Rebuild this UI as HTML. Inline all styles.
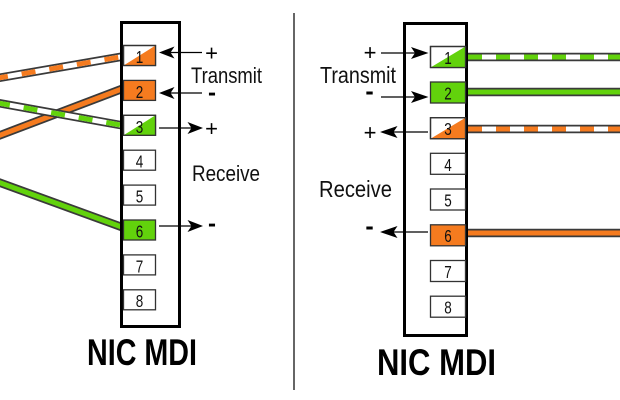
<!DOCTYPE html>
<html>
<head>
<meta charset="utf-8">
<style>
html,body{margin:0;padding:0;background:#fff;}
svg{display:block;}
text{font-family:"Liberation Sans",Arial,sans-serif;}
</style>
</head>
<body>
<svg width="620" height="400" viewBox="0 0 620 400" xmlns="http://www.w3.org/2000/svg">
<rect width="620" height="400" fill="#fff"/>

<!-- divider -->
<line x1="294" y1="13" x2="294" y2="390" stroke="#333" stroke-width="1.5"/>

<!-- LEFT cables -->
<g stroke-linecap="butt" fill="none">
  <path d="M-2,136 L123,88.5" stroke="#3a3a3a" stroke-width="8.5"/>
  <path d="M-2,136 L123,88.5" stroke="#f57b1f" stroke-width="5"/>
  <path d="M-2,78 L123,56.5" stroke="#3a3a3a" stroke-width="8.5"/>
  <path d="M-2,78 L123,56.5" stroke="#fff" stroke-width="5"/>
  <path d="M-2,78 L123,56.5" stroke="#f57b1f" stroke-width="5" stroke-dasharray="14 14" stroke-dashoffset="4"/>
  <path d="M-2,103 L123,125.5" stroke="#3a3a3a" stroke-width="8.5"/>
  <path d="M-2,103 L123,125.5" stroke="#fff" stroke-width="5"/>
  <path d="M-2,103 L123,125.5" stroke="#62d20c" stroke-width="5" stroke-dasharray="14 14" stroke-dashoffset="2"/>
  <path d="M-2,182 L123,227.5" stroke="#3a3a3a" stroke-width="8.5"/>
  <path d="M-2,182 L123,227.5" stroke="#62d20c" stroke-width="5"/>
</g>

<!-- RIGHT cables -->
<g stroke-linecap="butt" fill="none">
  <path d="M466,57 L625,57" stroke="#3a3a3a" stroke-width="8.5"/>
  <path d="M466,57 L625,57" stroke="#fff" stroke-width="5"/>
  <path d="M466,57 L625,57" stroke="#62d20c" stroke-width="5" stroke-dasharray="14 14" stroke-dashoffset="-2"/>
  <path d="M466,92 L625,92" stroke="#3a3a3a" stroke-width="8.5"/>
  <path d="M466,92 L625,92" stroke="#62d20c" stroke-width="5"/>
  <path d="M466,129 L625,129" stroke="#3a3a3a" stroke-width="8.5"/>
  <path d="M466,129 L625,129" stroke="#fff" stroke-width="5"/>
  <path d="M466,129 L625,129" stroke="#f57b1f" stroke-width="5" stroke-dasharray="14 14" stroke-dashoffset="-2"/>
  <path d="M466,233 L625,233" stroke="#3a3a3a" stroke-width="8.5"/>
  <path d="M466,233 L625,233" stroke="#f57b1f" stroke-width="5"/>
</g>

<!-- LEFT box -->
<rect x="121.5" y="22.5" width="58" height="304" fill="none" stroke="#000" stroke-width="3"/>

<!-- LEFT pins -->
<g stroke="#333" stroke-width="1.3">
  <rect x="123.5" y="45.5" width="32" height="20" fill="#fff"/>
  <polygon points="123.5,65.5 155.5,65.5 155.5,45.5" fill="#f57b1f" stroke="none"/>
  <rect x="123.5" y="45.5" width="32" height="20" fill="none"/>
  <rect x="123.5" y="80.4" width="32" height="20" fill="#f57b1f"/>
  <rect x="123.5" y="115.3" width="32" height="20" fill="#fff"/>
  <polygon points="123.5,135.3 155.5,135.3 155.5,115.3" fill="#62d20c" stroke="none"/>
  <rect x="123.5" y="115.3" width="32" height="20" fill="none"/>
  <rect x="123.5" y="150.2" width="32" height="20" fill="#fff"/>
  <rect x="123.5" y="185.1" width="32" height="20" fill="#fff"/>
  <rect x="123.5" y="220" width="32" height="20" fill="#62d20c"/>
  <rect x="123.5" y="254.9" width="32" height="20" fill="#fff"/>
  <rect x="123.5" y="289.8" width="32" height="20" fill="#fff"/>
</g>
<g font-size="17.5" text-anchor="middle" fill="#111">
  <text x="139.5" y="63" textLength="7.5" lengthAdjust="spacingAndGlyphs">1</text>
  <text x="139.5" y="98" textLength="7.5" lengthAdjust="spacingAndGlyphs">2</text>
  <text x="139.5" y="133" textLength="7.5" lengthAdjust="spacingAndGlyphs">3</text>
  <text x="139.5" y="167.5" textLength="7.5" lengthAdjust="spacingAndGlyphs">4</text>
  <text x="139.5" y="202.5" textLength="7.5" lengthAdjust="spacingAndGlyphs">5</text>
  <text x="139.5" y="237.5" textLength="7.5" lengthAdjust="spacingAndGlyphs">6</text>
  <text x="139.5" y="272.5" textLength="7.5" lengthAdjust="spacingAndGlyphs">7</text>
  <text x="139.5" y="307" textLength="7.5" lengthAdjust="spacingAndGlyphs">8</text>
</g>

<!-- LEFT arrows -->
<g stroke="#000" stroke-width="1.3">
  <line x1="170" y1="52.5" x2="202" y2="52.5"/>
  <line x1="170" y1="93" x2="202" y2="93"/>
  <line x1="159" y1="128" x2="192" y2="128"/>
  <line x1="159" y1="226" x2="192" y2="226"/>
</g>
<g fill="#000">
  <polygon points="159,52.5 174.5,46.5 170.5,52.5 174.5,58.5"/>
  <polygon points="159,93 174.5,87 170.5,93 174.5,99"/>
  <polygon points="203,128 187.5,122 191.5,128 187.5,134"/>
  <polygon points="203,226 187.5,220 191.5,226 187.5,232"/>
</g>
<g font-size="22" text-anchor="middle" fill="#000">
  <text x="211.5" y="60.5">+</text>
  <text x="211.5" y="136">+</text>
</g>
<g font-size="24" font-weight="bold" text-anchor="middle" fill="#000">
  <text x="212" y="100.5">-</text>
  <text x="212" y="231.5">-</text>
</g>
<g font-size="22" fill="#111">
  <text x="191" y="83" textLength="71" lengthAdjust="spacingAndGlyphs">Transmit</text>
  <text x="192" y="181" textLength="68" lengthAdjust="spacingAndGlyphs">Receive</text>
</g>
<text x="87" y="365" font-size="37" font-weight="bold" fill="#000" textLength="110" lengthAdjust="spacingAndGlyphs">NIC MDI</text>

<!-- RIGHT box -->
<rect x="404.5" y="23.5" width="62" height="312" fill="none" stroke="#000" stroke-width="3"/>

<!-- RIGHT pins -->
<g stroke="#333" stroke-width="1.3">
  <rect x="430.5" y="46.5" width="35" height="21" fill="#fff"/>
  <polygon points="430.5,67.5 465.5,67.5 465.5,46.5" fill="#62d20c" stroke="none"/>
  <rect x="430.5" y="46.5" width="35" height="21" fill="none"/>
  <rect x="430.5" y="82" width="35" height="21" fill="#62d20c"/>
  <rect x="430.5" y="117.7" width="35" height="21" fill="#fff"/>
  <polygon points="430.5,138.7 465.5,138.7 465.5,117.7" fill="#f57b1f" stroke="none"/>
  <rect x="430.5" y="117.7" width="35" height="21" fill="none"/>
  <rect x="430.5" y="153.3" width="35" height="21" fill="#fff"/>
  <rect x="430.5" y="189" width="35" height="21" fill="#fff"/>
  <rect x="430.5" y="224.8" width="35" height="21" fill="#f57b1f"/>
  <rect x="430.5" y="260.5" width="35" height="21" fill="#fff"/>
  <rect x="430.5" y="296.2" width="35" height="21" fill="#fff"/>
</g>
<g font-size="17.5" text-anchor="middle" fill="#111">
  <text x="448" y="64" textLength="7.5" lengthAdjust="spacingAndGlyphs">1</text>
  <text x="448" y="99.5" textLength="7.5" lengthAdjust="spacingAndGlyphs">2</text>
  <text x="448" y="135" textLength="7.5" lengthAdjust="spacingAndGlyphs">3</text>
  <text x="448" y="171" textLength="7.5" lengthAdjust="spacingAndGlyphs">4</text>
  <text x="448" y="206.5" textLength="7.5" lengthAdjust="spacingAndGlyphs">5</text>
  <text x="448" y="242" textLength="7.5" lengthAdjust="spacingAndGlyphs">6</text>
  <text x="448" y="278" textLength="7.5" lengthAdjust="spacingAndGlyphs">7</text>
  <text x="448" y="313.5" textLength="7.5" lengthAdjust="spacingAndGlyphs">8</text>
</g>

<!-- RIGHT arrows -->
<g stroke="#000" stroke-width="1.3">
  <line x1="381" y1="53" x2="415" y2="53"/>
  <line x1="381" y1="97" x2="415" y2="97"/>
  <line x1="393" y1="132" x2="428" y2="132"/>
  <line x1="393" y1="232" x2="428" y2="232"/>
</g>
<g fill="#000">
  <polygon points="428.5,53 411,47 415,53 411,59"/>
  <polygon points="428.5,97 411,91 415,97 411,103"/>
  <polygon points="380,132 397.5,126 393.5,132 397.5,138"/>
  <polygon points="380,232 397.5,226 393.5,232 397.5,238"/>
</g>
<g font-size="22" text-anchor="middle" fill="#000">
  <text x="370" y="60">+</text>
  <text x="370" y="140">+</text>
</g>
<g font-size="25" font-weight="bold" text-anchor="middle" fill="#000">
  <text x="369.5" y="99.5">-</text>
  <text x="369.5" y="234.5">-</text>
</g>
<g font-size="23" fill="#111">
  <text x="320" y="83" textLength="76" lengthAdjust="spacingAndGlyphs">Transmit</text>
  <text x="319" y="197" textLength="73" lengthAdjust="spacingAndGlyphs">Receive</text>
</g>
<text x="377" y="375" font-size="37" font-weight="bold" fill="#000" textLength="119" lengthAdjust="spacingAndGlyphs">NIC MDI</text>
</svg>
</body>
</html>
